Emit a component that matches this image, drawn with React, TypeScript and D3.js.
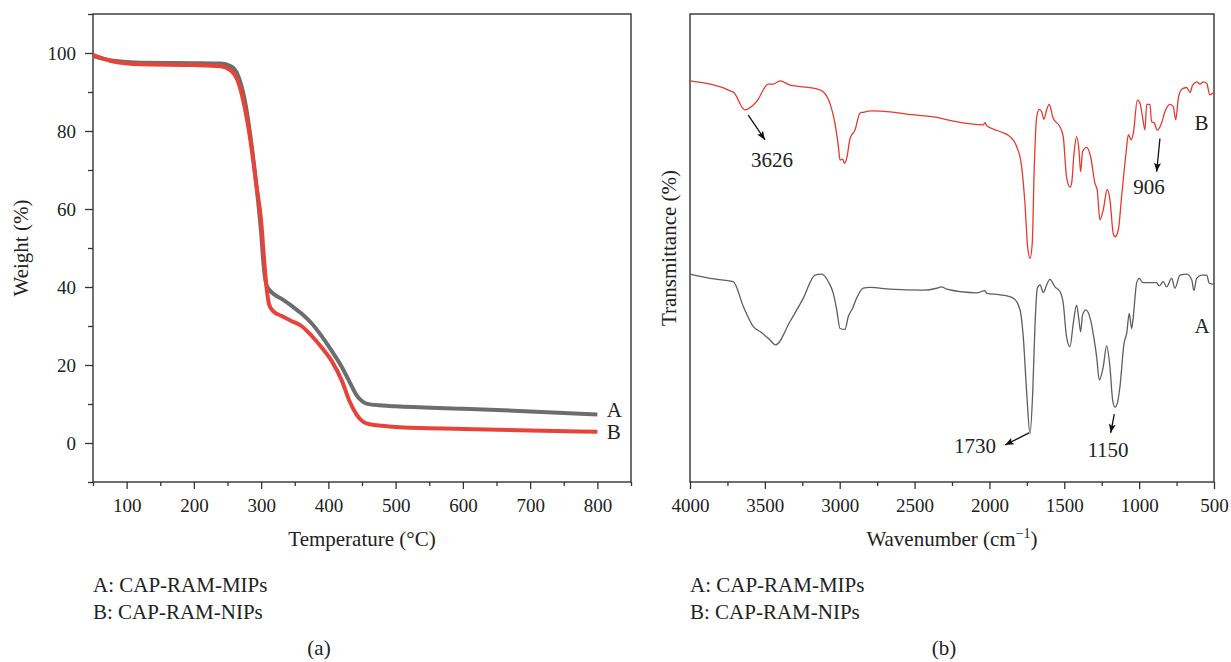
import React, { useEffect, useRef } from 'react'
import * as d3 from 'd3'

// (a) TGA: temperature (°C) and weight (%)
const tempC = [50, 80, 120, 200, 240, 255, 265, 275, 285, 293, 300, 304, 308, 312, 318, 330, 345, 360, 375, 390, 405, 420, 432, 442, 452, 462, 480, 500, 600, 700, 800]
const weightMIPs = [99.2, 98.0, 97.5, 97.4, 97.3, 96.6, 94.5, 88.5, 77.5, 66, 54, 45, 40.5, 39.3, 38.3, 37, 35.2, 33.2, 30.7, 27.4, 23.6, 19.5, 15.5, 12.2, 10.5, 9.9, 9.6, 9.4, 8.8, 8.1, 7.3]
const weightNIPs = [99.5, 97.8, 97.1, 96.9, 96.6, 95.5, 93.0, 86.5, 76.5, 66, 57, 48, 40, 35.5, 33.8, 32.6, 31.3, 30, 27.5, 24.5, 21, 16, 10.5, 7.3, 5.4, 4.8, 4.4, 4.1, 3.6, 3.2, 2.9]

// (b) FTIR: wavenumber (cm-1) and transmittance (arbitrary, offset curves)
const waveNIPs = [4000, 3711, 3633, 3555, 3477, 3444, 3399, 3332, 3265, 3143, 3110, 3065, 3032, 3009, 2998, 2980, 2969, 2953, 2931, 2898, 2865, 2843, 2786, 2664, 2553, 2352, 2241, 2041, 2030, 2018, 1930, 1863, 1818, 1785, 1763, 1745, 1729, 1714, 1701, 1684, 1667, 1651, 1636, 1618, 1601, 1574, 1529, 1507, 1485, 1462, 1451, 1435, 1418, 1402, 1391, 1378, 1351, 1324, 1295, 1280, 1262, 1240, 1213, 1195, 1173, 1161, 1139, 1117, 1088, 1072, 1054, 1039, 1012, 994, 976, 961, 950, 928, 917, 899, 879, 850, 828, 794, 772, 756, 738, 716, 683, 660, 643, 616, 594, 572, 549, 527, 505, 500]
const transNIPs = [85.7, 83.3, 79.5, 81.3, 85.0, 85.0, 85.7, 84.8, 84.5, 83.9, 83.4, 80.9, 76.7, 71.7, 68.8, 69.0, 68.1, 69.2, 73.4, 75.2, 78.8, 79.0, 79.3, 79.1, 78.6, 77.9, 77.1, 76.3, 76.8, 76.1, 74.9, 73.8, 71.7, 67.4, 59.6, 50.3, 47.8, 51.0, 66.7, 78.1, 79.6, 79.1, 77.5, 79.5, 80.7, 77.7, 75.9, 73.8, 65.2, 63.0, 63.8, 70.2, 73.8, 70.9, 66.3, 70.6, 71.5, 69.5, 63.8, 62.4, 56.0, 58.1, 62.5, 60.3, 53.1, 52.4, 53.9, 61.0, 70.2, 74.2, 73.1, 74.5, 81.6, 80.9, 77.7, 75.2, 80.7, 80.7, 77.0, 76.7, 75.2, 76.7, 79.1, 80.7, 80.2, 77.4, 82.0, 83.9, 84.3, 83.2, 84.8, 85.5, 85.0, 85.5, 85.2, 82.7, 83.1, 83.1]
const waveMIPs = [4000, 3866, 3711, 3644, 3577, 3521, 3477, 3428, 3332, 3243, 3165, 3120, 3076, 3043, 3020, 2998, 2965, 2943, 2913, 2887, 2843, 2798, 2664, 2442, 2352, 2319, 2286, 2085, 2030, 2018, 1930, 1841, 1796, 1774, 1751, 1729, 1711, 1696, 1680, 1662, 1640, 1618, 1596, 1562, 1529, 1507, 1485, 1462, 1440, 1418, 1402, 1391, 1378, 1356, 1324, 1295, 1284, 1266, 1240, 1217, 1195, 1177, 1161, 1146, 1128, 1101, 1083, 1066, 1050, 1039, 1017, 999, 976, 883, 866, 839, 817, 783, 761, 727, 683, 649, 634, 616, 583, 549, 532, 505, 500]
const transMIPs = [44.4, 43.5, 42.8, 37.5, 33.2, 31.9, 30.7, 29.3, 34.3, 39.3, 44.2, 44.4, 42.8, 40.3, 36.8, 32.8, 32.6, 35.3, 37.2, 39.3, 41.4, 41.6, 41.2, 41.0, 41.4, 41.7, 41.2, 40.4, 40.9, 40.3, 40.0, 39.3, 36.8, 31.0, 19.0, 10.3, 19.0, 33.2, 41.4, 42.1, 40.5, 42.1, 43.3, 41.7, 40.7, 38.2, 31.0, 28.9, 33.9, 37.8, 34.6, 32.1, 35.7, 36.8, 34.6, 29.3, 26.8, 21.8, 24.6, 29.1, 24.6, 17.5, 16.0, 16.8, 20.4, 29.6, 31.8, 36.0, 32.8, 35.3, 42.5, 43.5, 42.6, 42.6, 41.9, 42.8, 41.7, 43.5, 41.4, 44.2, 44.4, 43.2, 40.9, 43.5, 44.2, 44.2, 42.5, 42.3, 42.3]

const tempTicks = [100, 200, 300, 400, 500, 600, 700, 800]
const weightTicks = [0, 20, 40, 60, 80, 100]
const waveTicks = [4000, 3500, 3000, 2500, 2000, 1500, 1000, 500]
const legendLines = ['A: CAP-RAM-MIPs', 'B: CAP-RAM-NIPs']

// peak annotations: arrow from -> to, label at text
const peaks = [
  { label: '3626', from: [3611, 78.4], to: [3499, 73.1], text: [3452, 67.3] },
  { label: '906', from: [861, 73.4], to: [883, 66.3], text: [934, 61.6] },
  { label: '1730', from: [1736, 10.5], to: [1896, 7.9], text: [2097, 6.2] },
  { label: '1150', from: [1166, 14.5], to: [1190, 10.5], text: [1208, 5.4] },
]

const W = 1231
const H = 662
const FONT = '"Liberation Serif", "Times New Roman", serif'
const INK = '#333'
const FS = 19 // tick labels
const LS = 21 // titles, legends, annotations

export default function App() {
  const ref = useRef<SVGSVGElement>(null)

  useEffect(() => {
    const svg = d3.select(ref.current)
    svg.selectAll('*').remove()

    svg.append('defs').append('marker')
      .attr('id', 'arrow')
      .attr('viewBox', '0 0 10 8')
      .attr('refX', 10).attr('refY', 4)
      .attr('markerWidth', 11).attr('markerHeight', 7)
      .attr('markerUnits', 'userSpaceOnUse')
      .attr('orient', 'auto')
      .append('path').attr('d', 'M0,0L10,4L0,8L2,4z').attr('fill', '#111')

    const styleAxis = (g: any) => {
      g.select('.domain').remove()
      g.selectAll('line').attr('stroke', INK).attr('stroke-width', 1.3)
      g.selectAll('text').attr('font-family', FONT).attr('font-size', FS).attr('fill', '#222')
    }

    // ---------- (a) TGA ----------
    const a = { l: 93, r: 631, t: 14, b: 482 }
    const x = d3.scaleLinear().domain([50, 850]).range([a.l, a.r])
    const y = d3.scaleLinear().domain([-10, 110]).range([a.b, a.t])
    const ga = svg.append('g')

    ga.append('g').attr('transform', `translate(0,${a.b})`)
      .call(d3.axisBottom(x).tickValues(d3.range(50, 851, 100)).tickSize(4).tickFormat(() => ''))
      .call(styleAxis)
    ga.append('g').attr('transform', `translate(0,${a.b})`)
      .call(d3.axisBottom(x).tickValues(tempTicks).tickSize(7).tickPadding(10).tickFormat(d3.format('d')))
      .call(styleAxis)
    ga.append('g').attr('transform', `translate(${a.l},0)`)
      .call(d3.axisLeft(y).tickValues(d3.range(-10, 111, 20)).tickSize(5).tickFormat(() => ''))
      .call(styleAxis)
    ga.append('g').attr('transform', `translate(${a.l},0)`)
      .call(d3.axisLeft(y).tickValues(weightTicks).tickSize(8).tickPadding(9).tickFormat(d3.format('d')))
      .call(styleAxis)

    ga.append('rect')
      .attr('x', a.l).attr('y', a.t).attr('width', a.r - a.l).attr('height', a.b - a.t)
      .attr('fill', 'none').attr('stroke', INK).attr('stroke-width', 1.4)

    const tgaLine = (w: number[]) => d3.line<number>()
      .x((d, i) => x(tempC[i])).y(d => y(d)).curve(d3.curveMonotoneX)(w)

    ga.append('path').attr('d', tgaLine(weightMIPs)).attr('fill', 'none')
      .attr('stroke', '#6d6d6d').attr('stroke-width', 4)
    ga.append('path').attr('d', tgaLine(weightNIPs)).attr('fill', 'none')
      .attr('stroke', '#e8433b').attr('stroke-width', 4)

    ga.selectAll('.curve-label').data([['A', 6.7], ['B', 1.0]]).join('text')
      .attr('class', 'curve-label')
      .attr('x', x(814)).attr('y', d => y(d[1] as number))
      .attr('font-family', FONT).attr('font-size', LS).attr('fill', '#222')
      .text(d => d[0] as string)

    ga.append('text')
      .attr('transform', `translate(28,${(a.t + a.b) / 2}) rotate(-90)`)
      .attr('text-anchor', 'middle')
      .attr('font-family', FONT).attr('font-size', LS).attr('fill', '#222')
      .text('Weight (%)')
    ga.append('text')
      .attr('x', (a.l + a.r) / 2).attr('y', 546)
      .attr('text-anchor', 'middle')
      .attr('font-family', FONT).attr('font-size', LS).attr('fill', '#222')
      .text('Temperature (°C)')

    // ---------- (b) FTIR ----------
    const b = { l: 690, r: 1214, t: 14, b: 482 }
    const xb = d3.scaleLinear().domain([4000, 500]).range([b.l, b.r])
    const yb = d3.scaleLinear().domain([0, 100]).range([b.b, b.t])
    const gb = svg.append('g')

    gb.append('g').attr('transform', `translate(0,${b.b})`)
      .call(d3.axisBottom(xb).tickValues(d3.range(3750, 600, -500)).tickSize(4).tickFormat(() => ''))
      .call(styleAxis)
    gb.append('g').attr('transform', `translate(0,${b.b})`)
      .call(d3.axisBottom(xb).tickValues(waveTicks).tickSize(7).tickPadding(10).tickFormat(d3.format('d')))
      .call(styleAxis)

    gb.append('rect')
      .attr('x', b.l).attr('y', b.t).attr('width', b.r - b.l).attr('height', b.b - b.t)
      .attr('fill', 'none').attr('stroke', INK).attr('stroke-width', 1.4)

    const irLine = (wn: number[], tr: number[]) => d3.line<number>()
      .x((d, i) => xb(wn[i])).y(d => yb(d)).curve(d3.curveMonotoneX)(tr)

    gb.append('path').attr('d', irLine(waveNIPs, transNIPs)).attr('fill', 'none')
      .attr('stroke', '#e8382f').attr('stroke-width', 1.3)
    gb.append('path').attr('d', irLine(waveMIPs, transMIPs)).attr('fill', 'none')
      .attr('stroke', '#5e5e5e').attr('stroke-width', 1.3)

    gb.selectAll('.peak-arrow').data(peaks).join('line')
      .attr('class', 'peak-arrow')
      .attr('x1', d => xb(d.from[0])).attr('y1', d => yb(d.from[1]))
      .attr('x2', d => xb(d.to[0])).attr('y2', d => yb(d.to[1]))
      .attr('stroke', '#111').attr('stroke-width', 1.3)
      .attr('marker-end', 'url(#arrow)')
    gb.selectAll('.peak-label').data(peaks).join('text')
      .attr('class', 'peak-label')
      .attr('x', d => xb(d.text[0])).attr('y', d => yb(d.text[1]))
      .attr('text-anchor', 'middle')
      .attr('font-family', FONT).attr('font-size', LS).attr('fill', '#222')
      .text(d => d.label)

    gb.selectAll('.curve-label').data([['B', 75.2], ['A', 31.8]]).join('text')
      .attr('class', 'curve-label')
      .attr('x', xb(630)).attr('y', d => yb(d[1] as number))
      .attr('font-family', FONT).attr('font-size', LS).attr('fill', '#222')
      .text(d => d[0] as string)

    gb.append('text')
      .attr('transform', `translate(676,${(b.t + b.b) / 2}) rotate(-90)`)
      .attr('text-anchor', 'middle')
      .attr('font-family', FONT).attr('font-size', LS).attr('fill', '#222')
      .text('Transmittance (%)')
    const wt = gb.append('text')
      .attr('x', (b.l + b.r) / 2).attr('y', 546)
      .attr('text-anchor', 'middle')
      .attr('font-family', FONT).attr('font-size', LS).attr('fill', '#222')
    wt.append('tspan').text('Wavenumber (cm')
    wt.append('tspan').attr('dy', -8).attr('font-size', 14).text('−1')
    wt.append('tspan').attr('dy', 8).text(')')

    // ---------- legends and panel captions ----------
    const lg = svg.append('g').attr('font-family', FONT).attr('font-size', LS).attr('fill', '#222')
    ;[a.l, b.l].forEach(x0 => {
      lg.append('g').selectAll('text').data(legendLines).join('text')
        .attr('x', x0).attr('y', (d, i) => 592 + i * 27)
        .text(d => d)
    })
    lg.selectAll('.caption').data(['(a)', '(b)']).join('text')
      .attr('class', 'caption')
      .attr('x', (d, i) => (i === 0 ? 319 : 944)).attr('y', 655)
      .attr('text-anchor', 'middle')
      .text(d => d)
  }, [])

  return (
    <svg ref={ref} width={W} height={H}
      style={{ position: 'absolute', left: 0, top: 0, background: '#fff' }} />
  )
}
